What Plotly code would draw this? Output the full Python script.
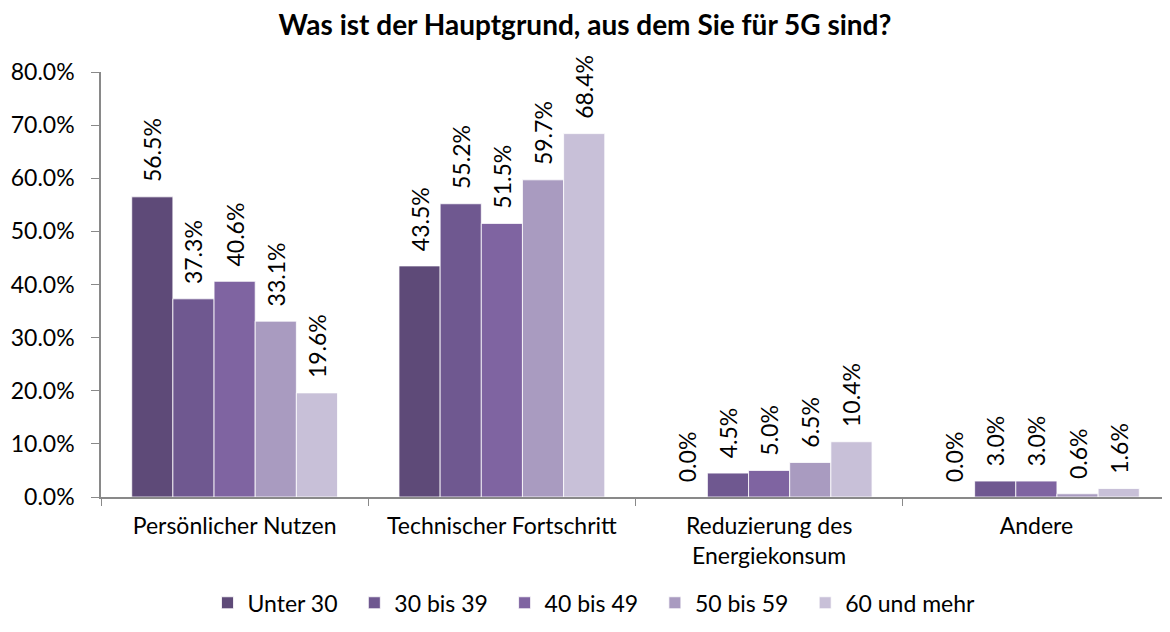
import plotly.graph_objects as go

categories = ["Persönlicher Nutzen", "Technischer Fortschritt", "Reduzierung des<br>Energiekonsum", "Andere"]
series_names = ["Unter 30", "30 bis 39", "40 bis 49", "50 bis 59", "60 und mehr"]
unter_30 = [56.5, 43.5, 0.0, 0.0]
bis_39 = [37.3, 55.2, 4.5, 3.0]
bis_49 = [40.6, 51.5, 5.0, 3.0]
bis_59 = [33.1, 59.7, 6.5, 0.6]
und_mehr = [19.6, 68.4, 10.4, 1.6]
series_values = [unter_30, bis_39, bis_49, bis_59, und_mehr]
colors = ["#5E4A78", "#6F5890", "#7F64A1", "#A99BC0", "#C8C0D8"]
y_ticks = [0, 10, 20, 30, 40, 50, 60, 70, 80]

FONT = "Lato, 'Open Sans', sans-serif"
FS = 23
NB = "\u00a0\u00a0"

fig = go.Figure()
for i, (name, vals, col) in enumerate(zip(series_names, series_values, colors)):
    label = name + ("\u00a0\u00a0" if i < len(series_names) - 1 else "")
    fig.add_trace(go.Bar(
        name=label, x=categories, y=vals,
        marker=dict(color=col, line=dict(color="white", width=0.8)),
        text=[f"{NB}{v:.1f}%" for v in vals],
        textposition="outside", textangle=-90,
        textfont=dict(size=FS, color="#000000", family=FONT),
        constraintext="none", cliponaxis=False,
    ))

fig.update_layout(
    width=1170, height=632,
    barmode="group", bargap=0.23, bargroupgap=0,
    plot_bgcolor="white", paper_bgcolor="white",
    margin=dict(l=93, r=8, t=64, b=143, autoexpand=False),
    font=dict(family=FONT, size=FS, color="#000000"),
    title=dict(text="<b>Was ist der Hauptgrund, aus dem Sie für 5G sind?</b>",
               x=577 / 1170, xref="container", xanchor="center",
               y=1 - 17 / 632, yref="container", yanchor="middle",
               font=dict(size=28, family=FONT)),
    legend=dict(orientation="h", x=(594 - 101) / 1069, xanchor="center",
                y=-0.249, yanchor="middle",
                font=dict(size=FS, family=FONT), traceorder="normal"),
    showlegend=True,
)
fig.update_xaxes(
    showline=True, linecolor="#898989", linewidth=1.5,
    ticks="outside", tickson="boundaries", ticklen=7, tickcolor="#898989",
    tickfont=dict(size=FS), showgrid=False, automargin=False,
    ticklabelstandoff=8,
)
fig.update_yaxes(
    range=[0, 80], tickvals=y_ticks, ticktext=[f"{v:.1f}%" for v in y_ticks],
    showline=True, linecolor="#898989", linewidth=1.5,
    ticks="outside", ticklen=8, tickcolor="#898989", ticklabelstandoff=12,
    showgrid=False, zeroline=False, tickfont=dict(size=FS), automargin=False,
)
fig.write_html("out.html")
